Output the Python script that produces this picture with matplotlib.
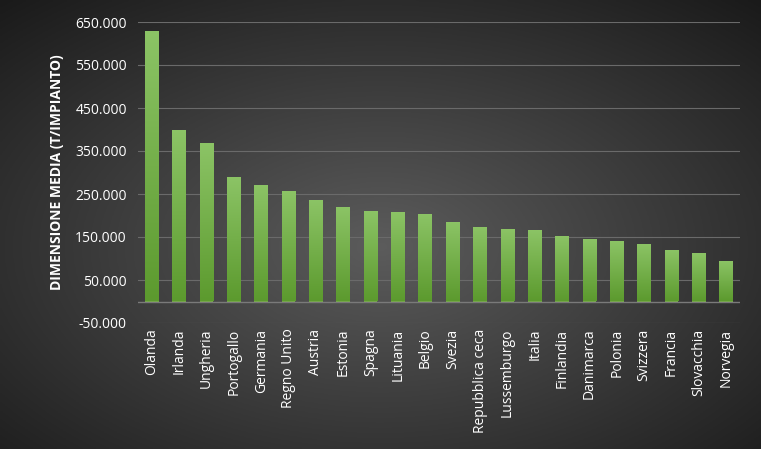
import numpy as np
import matplotlib
matplotlib.use("Agg")
import matplotlib.pyplot as plt
from matplotlib.ticker import FuncFormatter

countries = ["Olanda", "Irlanda", "Ungheria", "Portogallo", "Germania", "Regno Unito",
             "Austria", "Estonia", "Spagna", "Lituania", "Belgio", "Svezia",
             "Repubblica ceca", "Lussemburgo", "Italia", "Finlandia", "Danimarca",
             "Polonia", "Svizzera", "Francia", "Slovacchia", "Norvegia"]
values = [629000, 399000, 369000, 290000, 270000, 257000, 236000, 220000, 210000,
          208000, 203000, 185000, 173000, 169000, 166000, 152000, 145000, 140000,
          134000, 120000, 113000, 94000]

plt.rcParams["font.family"] = "Open Sans"
W, H = 761, 449
fig = plt.figure(figsize=(W / 100, H / 100), dpi=100)

# radial grey background
bg = fig.add_axes([0, 0, 1, 1], zorder=-10)
yy, xx = np.mgrid[0:1:200j, 0:1:300j]
r = np.sqrt(((xx - 0.5) / 0.75) ** 2 + ((yy - 0.45) / 0.75) ** 2)
g = np.clip(0.36 - 0.26 * r, 0.1, 0.4)
bg.imshow(np.dstack([g, g, g]), extent=[0, 1, 0, 1], aspect="auto", origin="lower")
bg.axis("off")

ax = fig.add_axes([138 / W, 1 - 323 / H, (740 - 138) / W, (323 - 22) / H])
ax.patch.set_alpha(0)
x = np.arange(len(countries))
bars = ax.bar(x, values, width=0.5, color="#76b043", zorder=2)

# vertical green gradient inside each bar
grad = np.linspace(0, 1, 256).reshape(-1, 1)
cmap = matplotlib.colors.LinearSegmentedColormap.from_list("g", ["#5c9a2e", "#8cc466"])
for b in bars:
    im = ax.imshow(grad, extent=[b.get_x(), b.get_x() + b.get_width(), 0, b.get_height()],
                   origin="lower", aspect="auto", cmap=cmap, zorder=3)
    im.set_clip_path(b)


def fmt(v, p):
    s = f"{abs(v):,.0f}".replace(",", ".")
    return s if v >= 0 else "-" + s


ax.set_xlim(-0.5, len(countries) - 0.5)
ax.set_ylim(-50000, 650000)
ax.set_yticks(np.arange(-50000, 650001, 100000))
ax.yaxis.set_major_formatter(FuncFormatter(fmt))
for t in np.arange(-50000, 650001, 100000):
    ax.axhline(t, color="#6a6a6a", lw=0.8, zorder=1)
ax.axhline(0, color="#7a7a7a", lw=1, zorder=4)
ax.set_xticks(x)
ax.set_xticklabels(countries, rotation=90, color="white", fontsize=10)
ax.tick_params(axis="y", colors="white", labelsize=10, length=0, pad=8)
ax.tick_params(axis="x", length=0, pad=4)
for s in ax.spines.values():
    s.set_visible(False)
ax.set_ylabel("DIMENSIONE MEDIA (T/IMPIANTO)", color="white", fontsize=10,
              fontweight="bold", labelpad=8)

fig.savefig("out.png", dpi=100)
